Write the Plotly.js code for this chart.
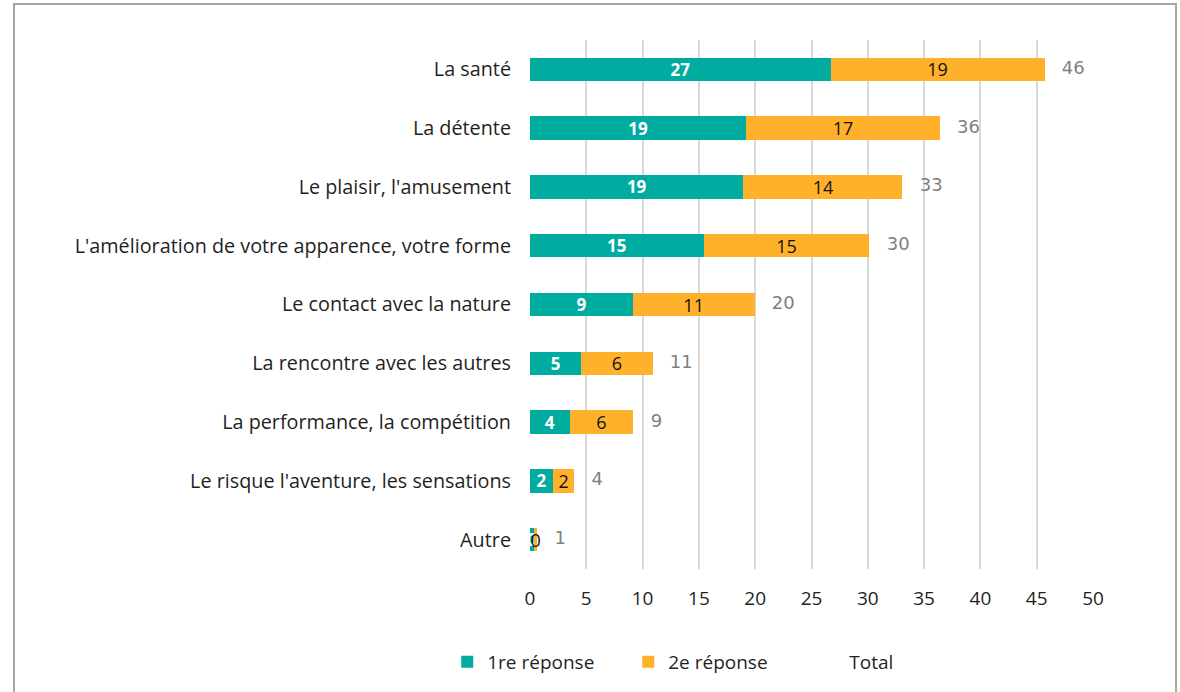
<!DOCTYPE html>
<html>
<head>
<meta charset="utf-8">
<script src="https://cdn.plot.ly/plotly-3.0.1.min.js"></script>
<style>
  html, body { margin: 0; padding: 0; background: #ffffff; }
  #wrap { position: relative; width: 1180px; height: 692px; overflow: hidden; }
  #chart { position: absolute; left: 0; top: 0; width: 1180px; height: 692px; }
  #frame { position: absolute; left: 13px; top: 3px; width: 1160px; height: 720px;
           border: 2px solid #a6a6a6; pointer-events: none; }
</style>
</head>
<body>
<div id="wrap">
  <div id="chart"></div>
  <div id="frame"></div>
</div>
<script>
const categories = [
  "La santé",
  "La détente",
  "Le plaisir, l'amusement",
  "L'amélioration de votre apparence, votre forme",
  "Le contact avec la nature",
  "La rencontre avec les autres",
  "La performance, la compétition",
  "Le risque l'aventure, les sensations",
  "Autre"
];
const firstAnswer  = [26.7, 19.2, 18.96, 15.41, 9.13, 4.57, 3.51, 2.04, 0.35];
const secondAnswer = [19.0, 17.2, 14.12, 14.74, 10.81, 6.31, 5.68, 1.9, 0.3];
const totalLabels  = [46, 36, 33, 30, 20, 11, 9, 4, 1];
const xTicks = [0, 5, 10, 15, 20, 25, 30, 35, 40, 45, 50];

const TEAL = "#00aba0";
const ORANGE = "#ffb12c";
const stackEnd = firstAnswer.map((v, i) => v + secondAnswer[i]);

const traces = [
  {
    type: "bar", orientation: "h", name: "1re réponse",
    x: firstAnswer, y: categories,
    marker: { color: TEAL },
    texttemplate: "%{x:.0f}", textposition: "inside", insidetextanchor: "middle",
    textangle: 0, constraintext: "none",
    insidetextfont: { family: "Open Sans", size: 17, color: "#ffffff", weight: "bold" },
    hoverinfo: "x+y"
  },
  {
    type: "bar", orientation: "h", name: "2e réponse",
    x: secondAnswer, y: categories,
    marker: { color: ORANGE },
    texttemplate: "%{x:.0f}", textposition: "inside", insidetextanchor: "middle",
    textangle: 0, constraintext: "none",
    insidetextfont: { family: "Open Sans", size: 18, color: "#111111", weight: 500 },
    hoverinfo: "x+y"
  },
  {
    type: "bar", orientation: "h", name: "Total",
    x: categories.map(() => null), y: categories,
    marker: { color: "rgba(0,0,0,0)" },
    showlegend: true, hoverinfo: "skip"
  },
  {
    type: "scatter", mode: "markers+text", name: "Total labels",
    x: stackEnd, y: categories,
    text: totalLabels.map(String),
    textposition: "middle right",
    marker: { size: 26, color: "rgba(0,0,0,0)" },
    textfont: { family: "DejaVu Sans", size: 18, color: "#7f7f7f" },
    showlegend: false, hoverinfo: "skip", cliponaxis: false
  }
];

const layout = {
  width: 1180, height: 692,
  margin: { l: 530, r: 87, t: 40, b: 122, pad: 0 },
  paper_bgcolor: "#ffffff", plot_bgcolor: "#ffffff",
  barmode: "stack", bargap: 0.6,
  font: { family: "Open Sans", size: 19, color: "#1f1f1f" },
  xaxis: {
    range: [0, 50], tickvals: xTicks, ticktext: xTicks.map(String),
    showgrid: true, gridcolor: "#d9d9d9", gridwidth: 2,
    zeroline: false, showline: false, ticks: "",
    ticklabelstandoff: 16,
    tickfont: { family: "Open Sans", size: 19, color: "#1f1f1f" },
    fixedrange: true
  },
  yaxis: {
    type: "category", autorange: false, range: [8.5, -0.5],
    showgrid: false, zeroline: false, showline: false, ticks: "",
    ticklabelstandoff: 18,
    tickfont: { family: "Open Sans", size: 19.8, color: "#1f1f1f" },
    fixedrange: true
  },
  legend: {
    orientation: "h", x: -0.147, xanchor: "left", y: -0.1736, yanchor: "middle",
    entrywidth: 136, entrywidthmode: "pixels",
    font: { family: "Open Sans", size: 19, color: "#1f1f1f" },
    itemwidth: 30, traceorder: "normal",
    bgcolor: "rgba(0,0,0,0)"
  },
  showlegend: true
};

Plotly.newPlot("chart", traces, layout, { displayModeBar: false, staticPlot: true });
</script>
</body>
</html>
